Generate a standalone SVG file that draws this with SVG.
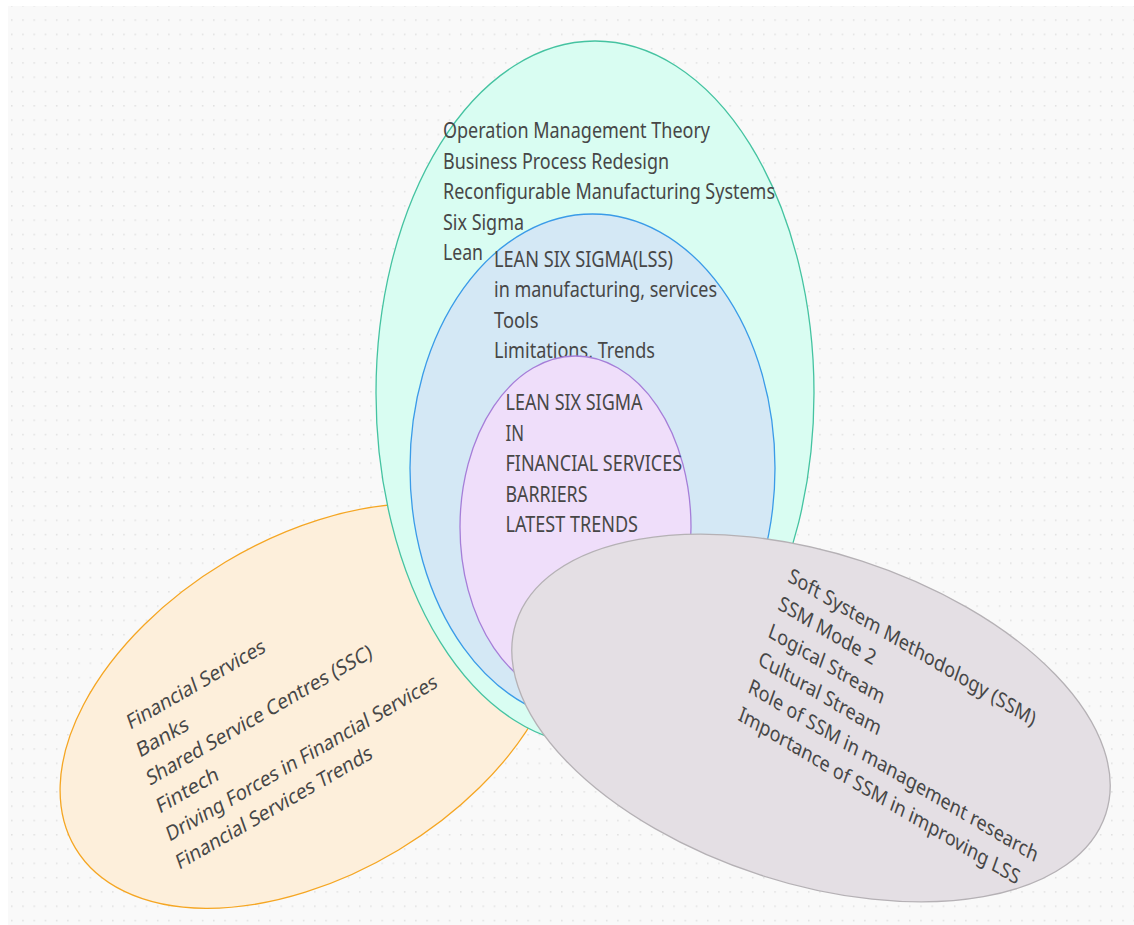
<svg xmlns="http://www.w3.org/2000/svg" width="1134" height="925" viewBox="0 0 1134 925">
  <defs>
    <pattern id="dotGrid" patternUnits="userSpaceOnUse" x="11" y="19.3" width="11.225" height="14.293">
      <rect x="0" y="0" width="1.5" height="1.5" fill="#e0e0e0"/>
    </pattern>
    <style>
      .lbl { font-family: "Noto Sans", "Open Sans", "DejaVu Sans", sans-serif; font-size: 21px; fill: #474747; }
      .shape { stroke-width: 1.3; }
      .fin { fill: #fdefdb; stroke: #f5a623; }
      .ops { fill: #d9fdf2; stroke: #45c3a1; }
      .lss { fill: #d4e8f5; stroke: #3a9be8; }
      .lssfs { fill: #efdefa; stroke: #a57ed8; }
      .ssm { fill: #e4dfe4; stroke: #b5b1b5; }
    </style>
  </defs>

  <!-- canvas -->
  <rect x="0" y="0" width="1134" height="925" fill="#ffffff"/>
  <rect x="8" y="6" width="1126" height="919" fill="#f9f9f9"/>
  <rect x="8" y="6" width="1126" height="919" fill="url(#dotGrid)"/>

  <!-- Financial services -->
  <g id="financial-services">
    <ellipse class="shape fin" cx="0" cy="0" rx="276" ry="168" transform="translate(312,706) rotate(-31)"/>
    <g transform="matrix(0.711,-0.41,0.32,0.912,130,730)">
      <text class="lbl" x="0" y="0" textLength="192" lengthAdjust="spacingAndGlyphs">Financial Services</text>
      <text class="lbl" x="0" y="30.7" textLength="70.6" lengthAdjust="spacingAndGlyphs">Banks</text>
      <text class="lbl" x="0" y="61.4" textLength="314.6" lengthAdjust="spacingAndGlyphs">Shared Service Centres (SSC)</text>
      <text class="lbl" x="0" y="92.1" textLength="85" lengthAdjust="spacingAndGlyphs">Fintech</text>
      <text class="lbl" x="0" y="122.8" textLength="378.5" lengthAdjust="spacingAndGlyphs">Driving Forces in Financial Services</text>
      <text class="lbl" x="0" y="153.5" textLength="273.3" lengthAdjust="spacingAndGlyphs">Financial Services Trends</text>
    </g>
  </g>

  <!-- Operations theory -->
  <g id="operations-theory">
    <ellipse class="shape ops" cx="595" cy="393" rx="219" ry="352"/>
    <text class="lbl" x="443" y="138" textLength="267" lengthAdjust="spacingAndGlyphs">Operation Management Theory</text>
    <text class="lbl" x="443" y="168.5" textLength="226" lengthAdjust="spacingAndGlyphs">Business Process Redesign</text>
    <text class="lbl" x="443" y="199" textLength="332" lengthAdjust="spacingAndGlyphs">Reconfigurable Manufacturing Systems</text>
    <text class="lbl" x="443" y="229.5" textLength="81" lengthAdjust="spacingAndGlyphs">Six Sigma</text>
    <text class="lbl" x="443" y="260" textLength="40" lengthAdjust="spacingAndGlyphs">Lean</text>
  </g>

  <!-- Lean Six Sigma -->
  <g id="lean-six-sigma">
    <ellipse class="shape lss" cx="592.5" cy="468" rx="182.5" ry="254"/>
    <text class="lbl" x="494" y="266.5" textLength="179" lengthAdjust="spacingAndGlyphs">LEAN SIX SIGMA(LSS)</text>
    <text class="lbl" x="494" y="297" textLength="223" lengthAdjust="spacingAndGlyphs">in manufacturing, services</text>
    <text class="lbl" x="494" y="327.5" textLength="44.5" lengthAdjust="spacingAndGlyphs">Tools</text>
    <text class="lbl" x="494" y="358" textLength="161" lengthAdjust="spacingAndGlyphs">Limitations, Trends</text>
  </g>

  <!-- Lean Six Sigma in financial services -->
  <g id="lss-financial-services">
    <ellipse class="shape lssfs" cx="575.5" cy="527" rx="115.5" ry="171"/>
    <text class="lbl" x="505.5" y="410" textLength="137" lengthAdjust="spacingAndGlyphs">LEAN SIX SIGMA</text>
    <text class="lbl" x="505.5" y="440.5" textLength="18.5" lengthAdjust="spacingAndGlyphs">IN</text>
    <text class="lbl" x="505.5" y="471" textLength="176.5" lengthAdjust="spacingAndGlyphs">FINANCIAL SERVICES</text>
    <text class="lbl" x="505.5" y="501.5" textLength="82" lengthAdjust="spacingAndGlyphs">BARRIERS</text>
    <text class="lbl" x="505.5" y="532" textLength="132.5" lengthAdjust="spacingAndGlyphs">LATEST TRENDS</text>
  </g>

  <!-- Soft system methodology -->
  <g id="soft-system-methodology">
    <ellipse class="shape ssm" cx="0" cy="0" rx="310" ry="165" transform="translate(811,718) rotate(18)"/>
    <g transform="matrix(0.708,0.4195,-0.327,0.9078,787,581)">
      <text class="lbl" x="0" y="0" textLength="347" lengthAdjust="spacingAndGlyphs">Soft System Methodology (SSM)</text>
      <text class="lbl" x="0" y="30.5" textLength="135.6" lengthAdjust="spacingAndGlyphs">SSM Mode 2</text>
      <text class="lbl" x="0" y="61" textLength="162" lengthAdjust="spacingAndGlyphs">Logical Stream</text>
      <text class="lbl" x="0" y="91.5" textLength="171" lengthAdjust="spacingAndGlyphs">Cultural Stream</text>
      <text class="lbl" x="0" y="122" textLength="406.8" lengthAdjust="spacingAndGlyphs">Role of SSM in management research</text>
      <text class="lbl" x="0" y="152.5" textLength="395" lengthAdjust="spacingAndGlyphs">Importance of SSM in improving LSS</text>
    </g>
  </g>

  <g id="connectors"/>
</svg>
